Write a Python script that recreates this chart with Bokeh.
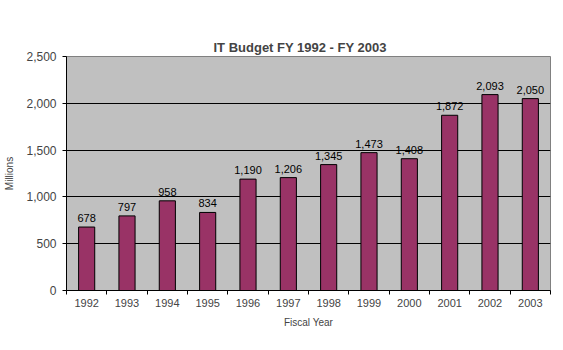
from bokeh.plotting import figure
from bokeh.models import (ColumnDataSource, LinearAxis, FixedTicker, NumeralTickFormatter,
                          LabelSet, Title)
from bokeh.core.properties import value
from bokeh.embed import file_html
from bokeh.resources import INLINE

years = ["1992", "1993", "1994", "1995", "1996", "1997", "1998", "1999", "2000", "2001", "2002", "2003"]
budget = [678, 797, 958, 834, 1190, 1206, 1345, 1473, 1408, 1872, 2093, 2050]
y_ticks = [0, 500, 1000, 1500, 2000, 2500]

n = len(years)
xs = [i + 0.5 for i in range(n)]
src = ColumnDataSource(dict(x=xs, top=budget, lbl=[f"{v:,}" for v in budget]))

FONT = "Liberation Sans"

p = figure(width=563, height=350, x_range=(0, n), y_range=(0, 2500),
           output_backend="svg", toolbar_location=None,
           x_axis_location=None, y_axis_location=None,
           min_border_left=66, min_border_right=13, min_border_top=56, min_border_bottom=60)
p.title_location = None
p.background_fill_color = "#C0C0C0"
p.border_fill_color = "white"
p.outline_line_color = "#808080"

# invisible spacer between plot area and title (closest to the frame)
spacer = LinearAxis(ticker=FixedTicker(ticks=[]), major_tick_in=0, major_tick_out=27,
                    major_tick_line_color=None, axis_line_color=None,
                    minor_tick_line_color=None, major_label_standoff=0)
p.add_layout(spacer, "above")

title = Title(text="IT Budget FY 1992 - FY 2003", align="left", text_font=FONT,
              text_font_size="13px", text_font_style="bold", offset=147, standoff=4,
              padding=0, vertical_align="bottom")
p.add_layout(title, "above")

p.vbar(x="x", top="top", width=0.4, source=src, fill_color="#993366",
       line_color="black", line_width=1)

# y axis
yax = LinearAxis(ticker=FixedTicker(ticks=y_ticks), formatter=NumeralTickFormatter(format="0,0"),
                 axis_label="Millions", axis_label_text_font=FONT, axis_label_text_font_size="10px",
                 axis_label_text_font_style="normal", axis_label_standoff=8,
                 major_label_text_font=FONT, major_label_text_font_size="12px",
                 major_tick_in=0, major_tick_out=4, minor_tick_line_color=None,
                 axis_line_color="black", major_tick_line_color="black",
                 major_label_standoff=6)
p.add_layout(yax, "left")

# x axis: labels at category centres, minor ticks at boundaries
xax = LinearAxis(ticker=FixedTicker(ticks=xs, minor_ticks=list(range(n + 1))),
                 major_label_overrides={x: y for x, y in zip(xs, years)},
                 major_label_text_font=FONT, major_label_text_font_size="11px",
                 major_label_standoff=4, major_tick_in=0, major_tick_out=0,
                 major_tick_line_color=None,
                 minor_tick_in=0, minor_tick_out=4, minor_tick_line_color="black",
                 axis_line_color="black",
                 axis_label="Fiscal Year", axis_label_text_font=FONT,
                 axis_label_text_font_size="10px", axis_label_text_font_style="normal",
                 axis_label_standoff=7)
p.add_layout(xax, "below")

p.ygrid.grid_line_color = "black"
p.ygrid.ticker = FixedTicker(ticks=y_ticks)
p.xgrid.grid_line_color = None

labels = LabelSet(x="x", y="top", text="lbl", source=src, text_align="center",
                  text_baseline="bottom", y_offset=5, text_font=value(FONT),
                  text_font_size="11px", text_color="black")
p.add_layout(labels)

open("out.html", "w").write(file_html(p, INLINE))
